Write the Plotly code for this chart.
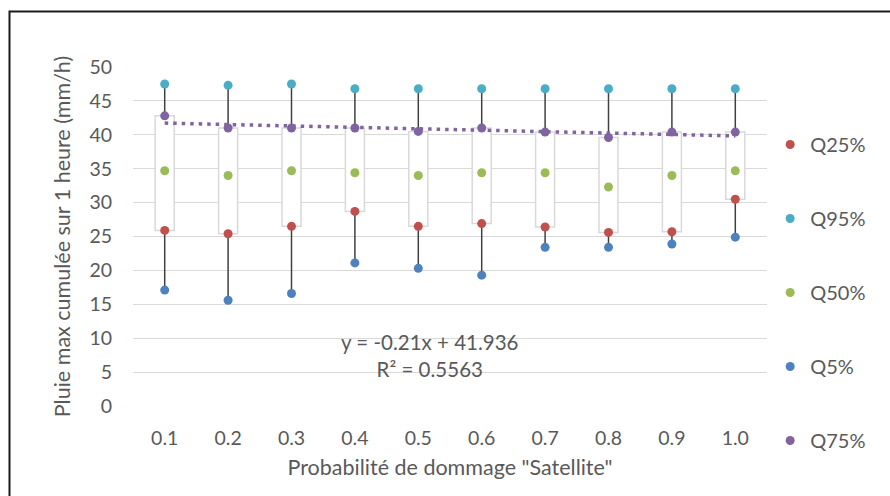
import plotly.graph_objects as go

# Probabilité de dommage "Satellite" (categories)
categories = ["0.1", "0.2", "0.3", "0.4", "0.5", "0.6", "0.7", "0.8", "0.9", "1.0"]
positions = list(range(1, len(categories) + 1))

# Quantiles of maximum 1-hour cumulated rainfall (mm/h)
q5 = [17.1, 15.6, 16.6, 21.1, 20.3, 19.3, 23.4, 23.4, 23.9, 24.9]
q25 = [25.9, 25.4, 26.5, 28.7, 26.5, 26.9, 26.4, 25.6, 25.7, 30.5]
q50 = [34.7, 34.0, 34.7, 34.4, 34.0, 34.4, 34.4, 32.3, 34.0, 34.7]
q75 = [42.8, 41.0, 41.0, 41.0, 40.5, 41.0, 40.4, 39.6, 40.4, 40.4]
q95 = [47.5, 47.3, 47.5, 46.8, 46.8, 46.8, 46.8, 46.8, 46.8, 46.8]

# Linear trend of Q75 against category index
trend_slope = -0.21
trend_intercept = 41.936
trend_r2 = 0.5563

FONT = "Lato"
TEXT = "#595959"
GRID = "#D9D9D9"

fig = go.Figure()

# Boxes spanning Q25 -> Q75
fig.add_trace(go.Bar(
    x=positions,
    base=q25,
    y=[hi - lo for hi, lo in zip(q75, q25)],
    width=0.3,
    marker=dict(color="white", line=dict(color=GRID, width=1.5)),
    showlegend=False,
    hoverinfo="skip",
))

# High-low whiskers: Q75 -> Q95 and Q5 -> Q25
wx, wy = [], []
for p, a, b, c, d in zip(positions, q5, q25, q75, q95):
    wx += [p, p, None, p, p, None]
    wy += [c, d, None, a, b, None]
fig.add_trace(go.Scatter(
    x=wx, y=wy, mode="lines",
    line=dict(color="#404040", width=1.5),
    showlegend=False, hoverinfo="skip",
))

# Dotted linear trendline for Q75
trend_y = [trend_slope * p + trend_intercept for p in positions]
fig.add_trace(go.Scatter(
    x=positions, y=trend_y, mode="lines",
    line=dict(color="#8064A2", width=3.5, dash="3.5px,5px"),
    showlegend=False, hoverinfo="skip",
))

series = [
    ("Q25%", q25, "#C0504D"),
    ("Q95%", q95, "#4BACC6"),
    ("Q50%", q50, "#9BBB59"),
    ("Q5%", q5, "#4F81BD"),
    ("Q75%", q75, "#8064A2"),
]
for name, vals, color in series:
    fig.add_trace(go.Scatter(
        x=positions, y=vals, mode="markers", name=name,
        legendgroup=name,
        marker=dict(color=color, size=9, line=dict(width=0)),
    ))

fig.add_annotation(
    x=5.18, y=7.45, xref="x", yref="y",
    text=f"y = {trend_slope}x + {trend_intercept}<br>R² = {trend_r2}",
    showarrow=False, align="center",
    font=dict(family=FONT, size=20.5, color=TEXT),
)

# Outer frame (left and top edges)
fig.add_shape(
    type="path", xref="paper", yref="paper",
    path="M -0.1948,-0.2655 L -0.1948,1.1637 L 1.2,1.1637",
    line=dict(color="#1a1a1a", width=2), layer="above",
)

fig.update_layout(
    width=890, height=496,
    margin=dict(l=133, r=123, t=67, b=90),
    paper_bgcolor="white", plot_bgcolor="white",
    font=dict(family=FONT, size=19.5, color=TEXT),
    barmode="overlay",
    legend=dict(
        x=1.005, xanchor="left", y=0.829, yanchor="top",
        font=dict(family=FONT, size=20, color=TEXT),
        tracegroupgap=45, bgcolor="rgba(0,0,0,0)",
        maxheight=480,
    ),
    xaxis=dict(
        range=[0.5, 10.5], tickmode="array", tickvals=positions, ticktext=categories,
        showgrid=False, zeroline=False, showline=False, ticks="",
        ticklabelstandoff=18,
        title=dict(text='Probabilité de dommage "Satellite"', font=dict(size=21.5), standoff=12),
    ),
    yaxis=dict(
        range=[0, 50], dtick=5, showgrid=True, gridcolor=GRID, gridwidth=1,
        zeroline=False, showline=False, ticks="", ticklabelstandoff=20,
        title=dict(text="Pluie max cumulée sur 1 heure (mm/h)", font=dict(size=21.5), standoff=12),
    ),
)

fig.write_html("out.html")
